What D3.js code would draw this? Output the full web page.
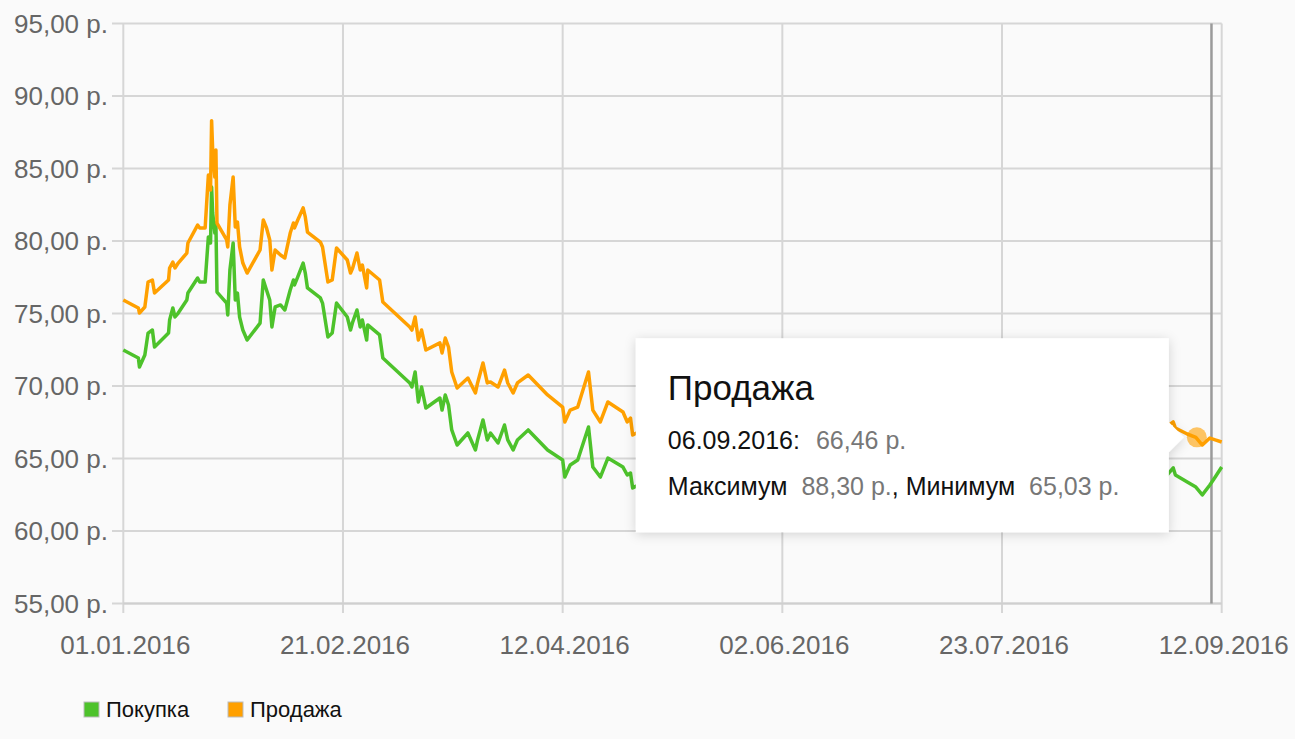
<!DOCTYPE html>
<html><head><meta charset="utf-8">
<script src="https://cdn.jsdelivr.net/npm/d3@7"></script>
<style>
body{margin:0;background:#fafafa;}
svg{display:block;font-family:"Liberation Sans",Arial,sans-serif;}
</style>
</head><body>
<svg id="c" width="1295" height="739"></svg>
<script>
const dates = [
"2016-01-01 00:00","2016-01-04 12:00","2016-01-04 18:00","2016-01-06 00:00","2016-01-06 18:00","2016-01-07 18:00","2016-01-08 06:00","2016-01-11 12:00","2016-01-11 18:00","2016-01-12 12:00",
"2016-01-13 00:00","2016-01-13 18:00","2016-01-15 18:00","2016-01-16 00:00","2016-01-18 06:00","2016-01-18 18:00","2016-01-20 00:00","2016-01-20 18:00","2016-01-21 06:00","2016-01-21 12:00",
"2016-01-21 18:00","2016-01-22 06:00","2016-01-22 12:00","2016-01-22 18:00","2016-01-25 00:00","2016-01-25 06:00","2016-01-25 18:00","2016-01-26 12:00","2016-01-27 00:00","2016-01-27 12:00",
"2016-01-28 00:00","2016-01-28 18:00","2016-01-29 18:00","2016-02-01 18:00","2016-02-02 12:00","2016-02-03 06:00","2016-02-04 00:00","2016-02-04 12:00","2016-02-05 06:00","2016-02-06 12:00",
"2016-02-07 12:00","2016-02-08 18:00","2016-02-09 12:00","2016-02-09 18:00","2016-02-10 12:00","2016-02-11 18:00","2016-02-12 06:00","2016-02-12 18:00","2016-02-15 18:00","2016-02-16 06:00",
"2016-02-17 12:00","2016-02-18 12:00","2016-02-19 12:00","2016-02-22 00:00","2016-02-22 18:00","2016-02-23 06:00","2016-02-24 06:00","2016-02-25 00:00","2016-02-25 12:00","2016-02-26 12:00",
"2016-02-26 18:00","2016-02-29 12:00","2016-03-01 06:00","2016-03-07 12:00","2016-03-08 00:00","2016-03-08 18:00","2016-03-09 12:00","2016-03-10 06:00","2016-03-11 06:00","2016-03-14 12:00",
"2016-03-15 00:00","2016-03-15 18:00","2016-03-16 12:00","2016-03-17 06:00","2016-03-18 12:00","2016-03-21 00:00","2016-03-22 18:00","2016-03-23 06:00","2016-03-24 12:00","2016-03-25 12:00",
"2016-03-26 06:00","2016-03-28 00:00","2016-03-29 12:00","2016-03-30 06:00","2016-03-31 12:00","2016-04-01 12:00","2016-04-04 00:00","2016-04-08 12:00","2016-04-12 00:00","2016-04-12 12:00",
"2016-04-13 18:00","2016-04-15 12:00","2016-04-18 00:00","2016-04-19 00:00","2016-04-20 18:00","2016-04-22 12:00","2016-04-26 00:00","2016-04-27 00:00","2016-04-27 18:00","2016-04-28 06:00",
"2016-05-04 00:00","2016-05-06 00:00","2016-05-12 00:00","2016-05-16 00:00","2016-05-19 00:00","2016-05-24 00:00","2016-05-27 00:00","2016-06-01 00:00","2016-06-07 00:00","2016-06-10 00:00",
"2016-06-15 00:00","2016-06-20 00:00","2016-06-24 00:00","2016-06-29 00:00","2016-07-04 00:00","2016-07-08 00:00","2016-07-13 00:00","2016-07-18 00:00","2016-07-22 00:00","2016-07-28 00:00",
"2016-08-02 00:00","2016-08-05 00:00","2016-08-10 00:00","2016-08-16 00:00","2016-08-19 00:00","2016-08-24 00:00","2016-08-29 00:00","2016-08-31 18:00","2016-09-01 06:00","2016-09-04 00:00",
"2016-09-06 00:00","2016-09-07 12:00","2016-09-09 06:00","2016-09-10 12:00","2016-09-12 00:00"
];
const buy = [
72.48,71.93,71.31,72.14,73.65,73.86,72.69,73.65,74.55,75.38,
74.76,75.03,75.93,76.41,77.45,77.17,77.17,80.28,79.86,83.72,
81.93,80.55,81.24,76.48,75.72,74.90,78.00,79.86,75.93,76.41,
74.76,73.86,73.17,74.34,77.31,76.62,75.93,74.07,75.45,75.59,
75.24,76.62,77.31,76.97,77.52,78.48,77.79,76.76,76.07,75.72,
73.38,73.65,75.72,74.76,73.86,74.41,75.24,74.07,74.55,73.17,
74.21,73.52,71.93,70.21,69.93,70.97,68.90,69.93,68.48,69.17,
68.34,69.38,68.69,66.97,65.93,66.76,65.59,66.28,67.66,66.28,
66.76,66.07,67.31,66.28,65.59,66.28,66.97,65.59,64.90,63.72,
64.55,64.90,67.17,64.41,63.72,65.03,64.41,63.86,64.00,62.97,
63.8,63.3,62.6,63.1,63.6,64.4,64.1,64.3,63.1,62.7,
63.7,63.2,64.0,62.8,62.3,62.9,62.0,62.1,62.9,64.1,
64.2,63.6,62.6,61.6,62.0,62.9,63.4,64.35,63.86,63.38,
63.03,62.49,63.17,63.72,64.41
];
const sell = [
75.93,75.38,75.03,75.45,77.17,77.31,76.41,77.31,78.14,78.55,
78.14,78.48,79.17,79.86,81.10,80.90,80.90,84.55,83.52,88.30,
86.28,84.41,86.28,81.24,80.07,79.59,82.48,84.41,80.97,81.31,
79.59,78.48,77.79,79.38,81.45,80.90,80.07,78.00,79.38,79.03,
78.83,80.55,81.24,80.90,81.45,82.28,81.66,80.62,79.93,79.59,
77.17,77.31,79.52,78.69,77.79,78.14,79.17,78.00,78.34,76.76,
78.00,77.31,75.79,74.07,73.86,74.76,73.17,73.86,72.48,72.97,
72.28,73.31,72.69,70.97,69.86,70.55,69.52,70.21,71.59,70.21,
70.28,69.93,71.10,70.21,69.52,70.21,70.76,69.38,68.55,67.52,
68.34,68.55,70.97,68.34,67.52,68.90,68.21,67.52,67.79,66.62,
67.5,67.0,66.2,66.8,67.4,68.3,67.9,68.1,66.8,66.3,
67.5,66.9,67.8,66.4,65.9,66.6,65.6,65.7,66.5,67.8,
67.9,67.3,66.2,65.03,65.5,66.4,66.9,67.52,67.10,66.69,
66.46,65.93,66.41,66.28,66.14
];
const seriesNames = ["Покупка","Продажа"];
const seriesColors = ["#4dc22b","#ffa000"];
const yTicks = [55,60,65,70,75,80,85,90,95];
const xTickDates = ["2016-01-01 00:00","2016-02-21 00:00","2016-04-12 00:00","2016-06-02 00:00","2016-07-23 00:00","2016-09-12 00:00"];
const xTickLabels = ["01.01.2016","21.02.2016","12.04.2016","02.06.2016","23.07.2016","12.09.2016"];
const hoverIndex = 130;              // 06.09.2016 point of "Продажа"
const crosshairDate = "2016-09-09 15:00";

const parse = d3.timeParse("%Y-%m-%d %H:%M");
const fmtDate = d3.timeFormat("%d.%m.%Y");
const loc = d3.formatLocale({decimal:",",thousands:" ",grouping:[3],currency:["",""]});
const money = v => loc.format(".2f")(v) + " р.";

const svg = d3.select("#c");
const x = d3.scaleTime().domain([parse(xTickDates[0]), parse(xTickDates[xTickDates.length-1])]).range([123.3, 1221.7]);
const y = d3.scaleLinear().domain([55,95]).range([603.5, 23.5]);

const grid = "#d6d6d6";
svg.append("g").selectAll("line").data(yTicks).join("line")
  .attr("x1",112).attr("x2",x.range()[1]).attr("y1",d=>y(d)).attr("y2",d=>y(d))
  .attr("stroke",grid).attr("stroke-width",2);
svg.append("g").selectAll("line").data(xTickDates).join("line")
  .attr("x1",d=>x(parse(d))).attr("x2",d=>x(parse(d))).attr("y1",y(95)).attr("y2",613)
  .attr("stroke",grid).attr("stroke-width",2);
svg.append("line").attr("x1",x.range()[0]).attr("x2",x.range()[1]).attr("y1",y(55)).attr("y2",y(55)).attr("stroke","#cfcfcf").attr("stroke-width",2);

svg.append("g").selectAll("text").data(yTicks).join("text")
  .attr("x",108).attr("y",d=>y(d)).attr("dy","0.35em").attr("text-anchor","end")
  .attr("font-size",26).attr("fill","#666").text(d=>money(d));
svg.append("g").selectAll("text").data(xTickDates).join("text")
  .attr("x",d=>x(parse(d))+2).attr("y",654).attr("text-anchor","middle")
  .attr("font-size",26).attr("fill","#666").text((d,i)=>xTickLabels[i]);

// crosshair
const cx = x(parse(crosshairDate));
svg.append("line").attr("x1",cx).attr("x2",cx).attr("y1",y(95)).attr("y2",y(55))
  .attr("stroke","#9a9a9a").attr("stroke-width",2.5);

// series
const pts = s => dates.map((d,i)=>({t:parse(d), v:s[i]}));
const line = d3.line().x(d=>x(d.t)).y(d=>y(d.v));
[buy, sell].forEach((s,k)=>{
  svg.append("path").datum(pts(s)).attr("d",line).attr("fill","none")
    .attr("stroke",seriesColors[k]).attr("stroke-width",3.5).attr("stroke-linejoin","round");
});

// hovered point
const hp = {t:parse(dates[hoverIndex]), v:sell[hoverIndex]};
svg.append("circle").attr("cx",x(hp.t)+1).attr("cy",y(hp.v)).attr("r",10)
  .attr("fill",seriesColors[1]).attr("fill-opacity",0.6);

// tooltip
const defs = svg.append("defs");
const f = defs.append("filter").attr("id","sh").attr("x","-10%").attr("y","-20%").attr("width","120%").attr("height","140%");
f.append("feDropShadow").attr("dx",0).attr("dy",2).attr("stdDeviation",6).attr("flood-color","#000").attr("flood-opacity",0.16);
const px = x(hp.t), py = y(hp.v);
const bw = 533, bh = 194, bx = px - 27 - bw, by = py - 99;
const tip = svg.append("g");
tip.append("path").attr("filter","url(#sh)")
  .attr("d",`M${bx},${by}H${bx+bw}V${py-15}L${bx+bw+15},${py}L${bx+bw},${py+15}V${by+bh}H${bx}Z`)
  .attr("fill","#fff");
tip.append("text").attr("x",bx+32).attr("y",by+62).attr("font-size",35).attr("fill","#111").text(seriesNames[1]);
const l2 = tip.append("text").attr("x",bx+32).attr("y",by+111).attr("font-size",25).attr("fill","#111");
l2.append("tspan").text(fmtDate(hp.t)+":");
l2.append("tspan").attr("dx",16).attr("fill","#777").text(money(hp.v));
const l3 = tip.append("text").attr("x",bx+32).attr("y",by+157).attr("font-size",25).attr("fill","#111");
l3.append("tspan").text("Максимум");
l3.append("tspan").attr("dx",14).attr("fill","#777").text(money(d3.max(sell)));
l3.append("tspan").text(", Минимум");
l3.append("tspan").attr("dx",14).attr("fill","#777").text(money(d3.min(sell)));

// legend
const lg = svg.append("g");
const legX = [84, 228];
seriesNames.forEach((n,i)=>{
  lg.append("rect").attr("x",legX[i]).attr("y",702).attr("width",15).attr("height",15)
    .attr("fill",seriesColors[i]).attr("stroke","#bbb").attr("stroke-width",1);
  lg.append("text").attr("x",legX[i]+22).attr("y",717).attr("font-size",22).attr("fill","#111").text(n);
});
</script>
</body></html>
